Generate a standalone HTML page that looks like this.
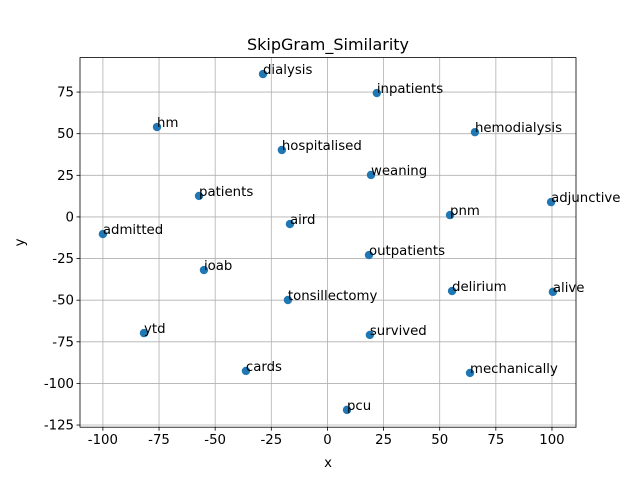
<!DOCTYPE html>
<html><head><meta charset="utf-8"><style>
body{margin:0;background:#fff;}
svg{display:block;font-family:"DejaVu Sans","Liberation Sans",sans-serif;}
</style></head><body>
<svg id="chart" width="640" height="480"></svg>
<script>
const words=["dialysis","inpatients","hm","hemodialysis","hospitalised","weaning","patients","adjunctive","pnm","aird","admitted","outpatients","ioab","delirium","alive","tonsillectomy","ytd","survived","cards","mechanically","pcu"];
const xVals=[-28.7,22.0,-75.9,65.7,-20.3,19.4,-57.2,99.6,54.6,-16.7,-100.0,18.5,-55.0,55.5,100.4,-17.6,-81.7,18.9,-36.3,63.5,8.7];
const yVals=[85.8,74.4,54.0,50.9,40.2,25.2,12.6,8.9,1.1,-4.3,-10.3,-22.9,-31.9,-44.5,-45.0,-49.9,-69.8,-70.9,-92.5,-93.7,-115.9];
const xTicks=[-100,-75,-50,-25,0,25,50,75,100];
const yTicks=[-125,-100,-75,-50,-25,0,25,50,75];
const L=80,R=576,T=57.6,B=427.2;
const xMin=-110.2,xMax=110.7,yMin=-126.3,yMax=95.7;
const sx=v=>L+(v-xMin)/(xMax-xMin)*(R-L);
const sy=v=>B-(v-yMin)/(yMax-yMin)*(B-T);
const svg=document.getElementById('chart');
const NS="http://www.w3.org/2000/svg";
function mk(tag,attrs,parent){const e=document.createElementNS(NS,tag);for(const k in attrs)e.setAttribute(k,attrs[k]);(parent||svg).appendChild(e);return e;}
xTicks.forEach(t=>{const x=sx(t);
 const g=mk('line',{x1:x,x2:x,y1:T,y2:B,stroke:'#b0b0b0','stroke-width':0.8});
 
 
 mk('line',{x1:x,x2:x,y1:B,y2:B+3.5,stroke:'#000','stroke-width':0.8});
 const tx=mk('text',{x:x,y:B+17,'text-anchor':'middle','font-size':'13.3px',fill:'#000'});tx.textContent=t;
 
 
});
yTicks.forEach(t=>{const y=sy(t);
 const g=mk('line',{x1:L,x2:R,y1:y,y2:y,stroke:'#b0b0b0','stroke-width':0.8});
 
 
 mk('line',{x1:L-3.5,x2:L,y1:y,y2:y,stroke:'#000','stroke-width':0.8});
 const tx=mk('text',{x:L-6,y:y+4.5,'text-anchor':'end','font-size':'13.3px',fill:'#000'});tx.textContent=t;
 
 
});
words.forEach((w,i)=>{const x=sx(xVals[i]),y=sy(yVals[i]);
 const c=mk('circle',{cx:x,cy:y,r:4.2,fill:'#1f77b4'});
 
 
});
words.forEach((w,i)=>{const x=sx(xVals[i]),y=sy(yVals[i]);
 const t=mk('text',{x:x,y:y,'font-size':'13.3px',fill:'#000'});t.textContent=w;
 
 
});
const fr=mk('rect',{x:L,y:T,width:R-L,height:B-T,fill:'none',stroke:'#000','stroke-width':0.8});


const ti=mk('text',{x:(L+R)/2,y:50,'text-anchor':'middle','font-size':'16px',fill:'#000'});ti.textContent='SkipGram_Similarity';


const xl=mk('text',{x:(L+R)/2,y:467,'text-anchor':'middle','font-size':'13.3px',fill:'#000'});xl.textContent='x';


const yl=mk('text',{x:0,y:0,'text-anchor':'middle','font-size':'13.3px',fill:'#000',transform:'translate(24,'+((T+B)/2)+') rotate(-90)'});yl.textContent='y';


</script>
</body></html>
